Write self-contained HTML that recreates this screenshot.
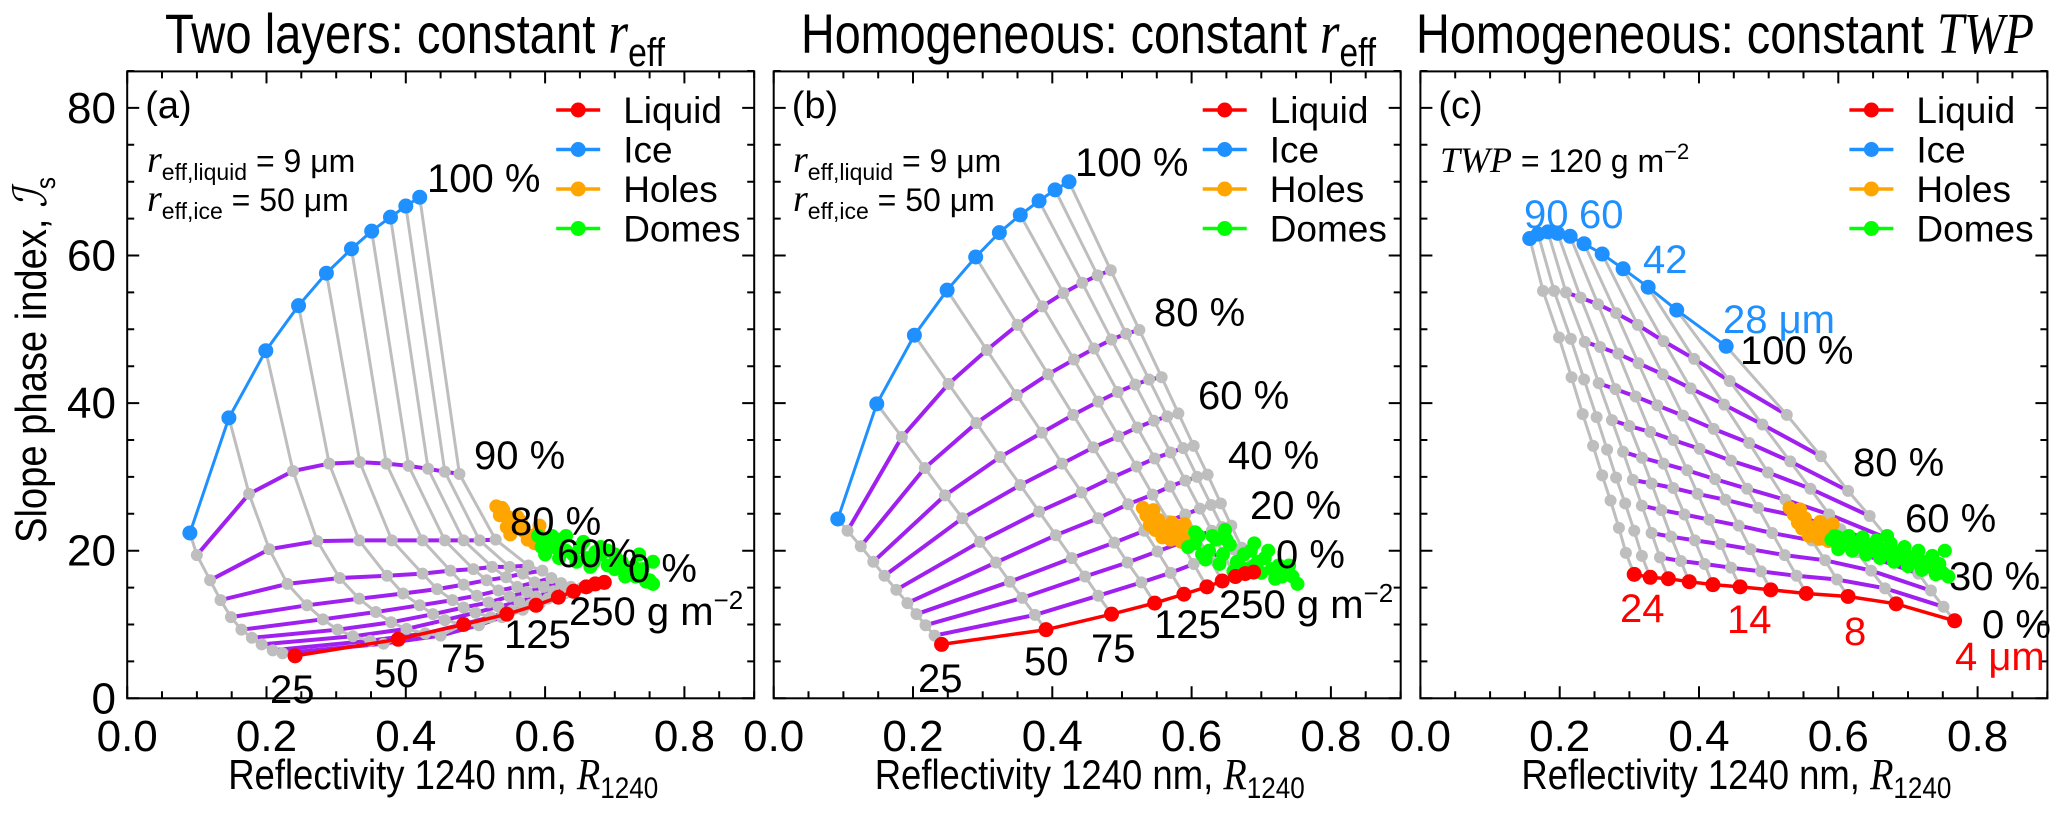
<!DOCTYPE html>
<html><head><meta charset="utf-8">
<style>
html,body{margin:0;padding:0;background:#fff;}
svg{display:block;font-family:"Liberation Sans",sans-serif;}
</style></head>
<body>
<svg id="fig" width="2067" height="814" viewBox="0 0 2067 814" xmlns="http://www.w3.org/2000/svg">
<rect x="0" y="0" width="2067" height="814" fill="#fff"/>
<g id="titles" font-size="56">
<text x="165" y="53" textLength="500" lengthAdjust="spacingAndGlyphs">Two layers: constant <tspan font-family="Liberation Serif" font-style="italic" font-size="60">r</tspan><tspan font-size="40" dy="13">eff</tspan></text>
<text x="801" y="53" textLength="575" lengthAdjust="spacingAndGlyphs">Homogeneous: constant <tspan font-family="Liberation Serif" font-style="italic" font-size="60">r</tspan><tspan font-size="40" dy="13">eff</tspan></text>
<text x="1416" y="53" textLength="618" lengthAdjust="spacingAndGlyphs">Homogeneous: constant <tspan font-family="Liberation Serif" font-style="italic" font-size="58">TWP</tspan></text>
</g>
<text transform="translate(46,360) rotate(-90)" text-anchor="middle" font-size="44" textLength="366" lengthAdjust="spacingAndGlyphs">Slope phase index, <tspan font-family="Liberation Serif" font-style="italic" font-size="46">ℐ</tspan><tspan font-size="28" dy="9">s</tspan></text>
<g id="plots"></g>
</svg>
<script>
// ---------- panel geometry ----------
const panelX0 = [127.2, 773.7, 1420.4];
const PX = 696.5, PY = 7.38, Y0 = 698.3, PW = 627, TOP = 71.4;
const xTicks = [0.0, 0.2, 0.4, 0.6, 0.8];
const xTickLabels = ["0.0", "0.2", "0.4", "0.6", "0.8"];
const yTicks = [0, 20, 40, 60, 80];
const yTickLabels = ["0", "20", "40", "60", "80"];
const legendNames = ["Liquid", "Ice", "Holes", "Domes"];
const legendColors = ["#ff0000", "#1e90ff", "#ffa500", "#00ff00"];

// ---------- panel (a) grid: rows 100% (ice) .. 0% (liquid) ----------
const aX = [
[0.090,0.146,0.199,0.246,0.286,0.322,0.351,0.378,0.400,0.420],
[0.100,0.175,0.238,0.290,0.334,0.372,0.404,0.432,0.456,0.477],
[0.119,0.204,0.273,0.333,0.380,0.424,0.456,0.483,0.506,0.529],
[0.134,0.230,0.305,0.373,0.424,0.464,0.497,0.524,0.549,0.576],
[0.149,0.258,0.333,0.396,0.445,0.483,0.516,0.544,0.568,0.596],
[0.164,0.281,0.357,0.420,0.467,0.502,0.533,0.560,0.585,0.609],
[0.179,0.302,0.379,0.439,0.483,0.519,0.549,0.574,0.598,0.623],
[0.193,0.324,0.401,0.456,0.500,0.533,0.563,0.587,0.612,0.637],
[0.209,0.349,0.428,0.481,0.522,0.552,0.579,0.604,0.628,0.653],
[0.223,0.368,0.450,0.505,0.538,0.568,0.593,0.615,0.637,0.664],
[0.241,0.389,0.483,0.545,0.587,0.619,0.641,0.659,0.672,0.685]];
const aY = [
[22.4,38.0,47.1,53.2,57.6,60.9,63.3,65.2,66.7,67.9],
[19.4,27.7,30.8,31.8,32.0,31.8,31.5,31.1,30.7,30.4],
[16.0,20.2,21.3,21.4,21.4,21.4,21.4,21.4,21.4,21.5],
[13.3,15.5,16.3,16.6,16.9,17.3,17.5,17.8,17.8,18.0],
[11.0,12.6,13.5,14.2,14.8,15.4,16.0,16.4,16.9,17.3],
[9.3,10.7,11.7,12.6,13.3,13.9,14.6,15.1,15.7,16.3],
[8.2,9.3,10.3,11.4,12.3,13.0,13.8,14.4,15.1,15.6],
[7.3,8.4,9.4,10.6,11.6,12.4,13.1,13.8,14.5,15.1],
[6.5,7.8,8.8,10.0,11.0,11.9,12.7,13.5,14.2,15.0],
[6.1,7.4,8.5,9.9,11.0,12.0,12.9,13.7,14.4,15.1],
[5.75,8.0,10.0,11.4,12.6,13.7,14.5,15.1,15.5,15.7]];

// ---------- panel (b) grid ----------
const bX = [
[0.092,0.148,0.202,0.249,0.290,0.324,0.354,0.381,0.404,0.424],
[0.106,0.184,0.251,0.306,0.350,0.386,0.416,0.443,0.465,0.484],
[0.125,0.217,0.291,0.349,0.394,0.431,0.460,0.485,0.506,0.525],
[0.143,0.246,0.325,0.385,0.430,0.466,0.494,0.519,0.539,0.557],
[0.159,0.271,0.354,0.414,0.459,0.495,0.522,0.546,0.565,0.581],
[0.176,0.296,0.381,0.442,0.486,0.521,0.547,0.570,0.588,0.603],
[0.192,0.319,0.405,0.466,0.509,0.544,0.569,0.591,0.608,0.623],
[0.205,0.339,0.428,0.489,0.532,0.567,0.591,0.612,0.628,0.642],
[0.218,0.357,0.447,0.508,0.551,0.585,0.608,0.629,0.644,0.657],
[0.231,0.375,0.466,0.528,0.570,0.603,0.625,0.645,0.660,0.672],
[0.241,0.391,0.485,0.547,0.589,0.622,0.644,0.663,0.677,0.689]];
const bY = [
[24.3,39.9,49.2,55.3,59.8,63.1,65.5,67.4,68.9,70.0],
[22.7,35.4,42.6,47.2,50.6,53.1,54.9,56.3,57.3,58.0],
[20.6,31.2,37.3,41.1,43.9,45.9,47.4,48.6,49.4,49.9],
[18.5,27.5,32.7,36.0,38.4,40.2,41.5,42.5,43.2,43.5],
[16.6,24.4,28.9,31.8,34.0,35.5,36.7,37.6,38.2,38.6],
[14.7,21.2,25.3,27.9,29.9,31.4,32.5,33.3,33.9,34.2],
[12.9,18.4,22.1,24.4,26.3,27.6,28.7,29.5,30.0,30.3],
[11.4,15.8,19.0,21.1,22.7,24.0,24.9,25.7,26.2,26.4],
[9.9,13.6,16.5,18.4,19.9,21.1,22.0,22.7,23.2,23.4],
[8.5,11.3,13.9,15.7,17.0,18.2,19.1,19.7,20.2,20.4],
[7.3,9.3,11.4,12.9,14.1,15.1,15.9,16.5,16.9,17.1]];

// ---------- panel (c) grid ----------
const cX = [
[0.157,0.169,0.183,0.197,0.215,0.235,0.261,0.291,0.327,0.368,0.439],
[0.176,0.192,0.209,0.230,0.255,0.281,0.312,0.349,0.393,0.444,0.526],
[0.199,0.216,0.236,0.258,0.284,0.313,0.348,0.388,0.436,0.491,0.575],
[0.217,0.235,0.256,0.280,0.309,0.340,0.377,0.421,0.472,0.531,0.614],
[0.233,0.253,0.275,0.300,0.330,0.363,0.401,0.446,0.499,0.560,0.645],
[0.248,0.268,0.291,0.318,0.349,0.383,0.423,0.469,0.524,0.587,0.672],
[0.261,0.281,0.305,0.332,0.363,0.398,0.438,0.485,0.540,0.603,0.690],
[0.273,0.294,0.318,0.346,0.379,0.415,0.457,0.505,0.562,0.627,0.715],
[0.285,0.307,0.332,0.360,0.394,0.431,0.474,0.523,0.581,0.647,0.733],
[0.295,0.318,0.344,0.374,0.408,0.446,0.489,0.540,0.598,0.667,0.751],
[0.307,0.330,0.356,0.386,0.420,0.459,0.503,0.554,0.614,0.683,0.767]];
const cY = [
[62.3,62.9,63.2,63.0,62.6,61.6,60.2,58.2,55.7,52.6,47.7],
[55.2,55.2,55.0,54.3,53.4,52.2,50.6,48.4,46.0,43.0,38.4],
[48.9,48.7,48.3,47.6,46.7,45.4,43.9,42.0,39.8,37.1,32.8],
[43.5,43.2,42.7,41.9,40.9,39.7,38.3,36.5,34.6,32.1,28.1],
[38.5,38.1,37.7,36.9,36.1,35.0,33.8,32.2,30.6,28.4,24.7],
[34.2,33.7,33.4,32.6,31.8,30.9,29.7,28.4,26.9,24.9,21.6],
[30.2,29.9,29.6,29.1,28.5,27.7,26.9,25.8,24.7,22.9,19.8],
[26.8,26.4,26.1,25.5,24.9,24.2,23.4,22.4,21.4,19.8,16.9],
[23.1,22.7,22.4,21.9,21.4,20.9,20.2,19.4,18.7,17.3,14.6],
[19.7,19.3,19.1,18.6,18.2,17.7,17.2,16.6,16.1,14.9,12.4],
[16.8,16.4,16.2,15.8,15.4,15.1,14.7,14.2,13.8,12.8,10.5]];

// ---------- observations ----------
const aHolesX = [0.530,0.540,0.535,0.548,0.555,0.545,0.560,0.570,0.580,0.590,0.575,0.585,0.595,0.565,0.550,0.538,0.560,0.592];
const aHolesY = [26.0,25.5,24.8,24.5,23.8,23.2,23.0,22.6,22.0,22.5,21.5,21.0,21.8,24.0,22.2,25.8,24.6,23.4];
const aDomesX = [0.590,0.600,0.610,0.620,0.630,0.640,0.650,0.660,0.670,0.680,0.690,0.700,0.710,0.720,0.730,0.740,0.750,0.755,0.600,0.620,0.645,0.665,0.680,0.700,0.735,0.755,0.610,0.630,0.655,0.690,0.715,0.745,0.595,0.625,0.672,0.705,0.727];
const aDomesY = [22.0,21.0,20.5,21.5,20.0,19.5,20.5,19.0,18.5,19.5,18.0,17.5,18.5,17.0,16.5,17.5,16.0,15.5,19.5,19.0,18.5,17.8,20.5,19.5,19.5,18.5,22.0,22.0,21.2,20.0,16.5,15.8,20.5,20.2,19.8,18.0,17.8];
const bHolesX = [0.530,0.535,0.545,0.540,0.552,0.560,0.565,0.572,0.580,0.588,0.595,0.585,0.570,0.558,0.548,0.590];
const bHolesY = [25.8,24.8,25.5,23.5,24.2,23.0,22.4,23.8,22.8,22.0,21.6,21.2,21.5,21.8,22.8,23.6];
const bDomesX = [0.595,0.605,0.615,0.625,0.635,0.645,0.655,0.665,0.675,0.685,0.695,0.705,0.715,0.725,0.735,0.745,0.752,0.610,0.630,0.650,0.670,0.690,0.710,0.730,0.620,0.640,0.660,0.680,0.700,0.720,0.740,0.605,0.648,0.690];
const bDomesY = [20.5,21.0,19.5,20.0,21.5,19.5,20.8,18.5,19.5,20.0,18.5,19.0,17.5,18.0,17.0,16.5,15.5,22.0,22.0,21.5,17.8,21.0,20.0,16.5,18.8,18.2,17.2,17.5,17.0,16.2,18.0,22.5,22.8,18.0];
const cHolesX = [0.530,0.536,0.545,0.542,0.552,0.560,0.566,0.574,0.582,0.590,0.597,0.586,0.572,0.558,0.548,0.592];
const cHolesY = [25.8,24.9,25.6,23.8,24.4,23.2,22.6,23.9,22.9,22.2,21.6,21.3,21.6,22.0,23.0,23.6];
const cDomesX = [0.590,0.600,0.610,0.620,0.630,0.640,0.650,0.660,0.670,0.680,0.690,0.700,0.710,0.720,0.730,0.740,0.750,0.758,0.600,0.620,0.640,0.660,0.680,0.700,0.720,0.740,0.595,0.615,0.635,0.655,0.675,0.695,0.715,0.735,0.753,0.670,0.745];
const cDomesY = [21.5,21.8,21.0,21.2,20.6,20.8,20.0,20.2,19.6,19.8,19.0,19.2,18.5,18.6,17.8,17.6,17.0,16.5,20.2,20.0,19.5,19.0,18.5,17.9,17.4,16.8,22.0,22.0,21.8,21.4,21.0,20.5,20.0,19.3,20.0,22.0,18.2];

const panels = [
 {id:"a", gx:aX, gy:aY, hx:aHolesX, hy:aHolesY, dx:aDomesX, dy:aDomesY, purpleStart:0},
 {id:"b", gx:bX, gy:bY, hx:bHolesX, hy:bHolesY, dx:bDomesX, dy:bDomesY, purpleStart:0},
 {id:"c", gx:cX, gy:cY, hx:cHolesX, hy:cHolesY, dx:cDomesX, dy:cDomesY, purpleStart:2}
];

const NS = "http://www.w3.org/2000/svg";
const root = document.getElementById("plots");
function mk(tag, attrs, parent){
  const e = document.createElementNS(NS, tag);
  for (const k in attrs) e.setAttribute(k, attrs[k]);
  parent.appendChild(e);
  return e;
}
function pathOf(xs, ys, sx, sy, start){
  let d = "";
  for (let i = start; i < xs.length; i++) d += (i === start ? "M" : "L") + sx(xs[i]).toFixed(1) + "," + sy(ys[i]).toFixed(1);
  return d;
}

panels.forEach((p, pi) => {
  const ox = panelX0[pi];
  const sx = v => ox + v * PX;
  const sy = v => Y0 - v * PY;
  const g = mk("g", {}, root);
  
  
  const nR = p.gx.length, nC = p.gx[0].length;
  for (let r = 1; r < nR - 1; r++) {
    const pl = mk("path", {d: pathOf(p.gx[r], p.gy[r], sx, sy, p.purpleStart), fill:"none", stroke:"#a020f0", "stroke-width":"4"}, g);
    
    
  }
  for (let c = 0; c < nC; c++) {
    const xs = p.gx.map(row => row[c]), ys = p.gy.map(row => row[c]);
    const cl = mk("path", {d: pathOf(xs, ys, sx, sy, 0), fill:"none", stroke:"#bebebe", "stroke-width":"3"}, g);
    
    
  }
  for (let r = 1; r < nR - 1; r++) for (let c = 0; c < nC; c++) {
    const d = mk("circle", {cx: sx(p.gx[r][c]), cy: sy(p.gy[r][c]), r: 6, fill:"#bebebe"}, g);
    
    
  }
  const ice = mk("path", {d: pathOf(p.gx[0], p.gy[0], sx, sy, 0), fill:"none", stroke:"#1e90ff", "stroke-width":"3"}, g);
  
  
  const liq = mk("path", {d: pathOf(p.gx[nR-1], p.gy[nR-1], sx, sy, 0), fill:"none", stroke:"#ff0000", "stroke-width":"3.5"}, g);
  
  
  for (let i = 0; i < p.hx.length; i++) {
    const d = mk("circle", {cx: sx(p.hx[i]), cy: sy(p.hy[i]), r: 7, fill:"#ffa500"}, g);
    
    
  }
  for (let i = 0; i < p.dx.length; i++) {
    const d = mk("circle", {cx: sx(p.dx[i]), cy: sy(p.dy[i]), r: 7, fill:"#00ff00"}, g);
    
    
  }
  for (let c = 0; c < nC; c++) {
    const d = mk("circle", {cx: sx(p.gx[0][c]), cy: sy(p.gy[0][c]), r: 7.5, fill:"#1e90ff"}, g);
    
    
    const e = mk("circle", {cx: sx(p.gx[nR-1][c]), cy: sy(p.gy[nR-1][c]), r: 7.5, fill:"#ff0000"}, g);
    
    
  }
  const fr = mk("rect", {x: ox, y: TOP, width: PW, height: Y0 - TOP, fill:"none", stroke:"#000", "stroke-width":"2"}, g);
  
  
  let td = "";
  for (let k = 0; k <= 18; k++) {
    const X = sx(k * 0.05), L = (k % 4 === 0) ? 12 : 7;
    td += `M${X.toFixed(1)},${Y0}v${-L}M${X.toFixed(1)},${TOP}v${L}`;
  }
  for (let k = 0; k <= 17; k++) {
    const Y = sy(k * 5), L = (k % 4 === 0) ? 12 : 7;
    td += `M${ox},${Y.toFixed(1)}h${L}M${ox + PW},${Y.toFixed(1)}h${-L}`;
  }
  const tk = mk("path", {d: td, stroke:"#000", "stroke-width":"2", fill:"none"}, g);
  
  
  xTicks.forEach((v, i) => {
    const t = mk("text", {x: sx(v), y: 751, "text-anchor":"middle", "font-size":"44"}, g);
    t.textContent = xTickLabels[i];
    
    
  });
  if (pi === 0) yTicks.forEach((v, i) => {
    const t = mk("text", {x: 116, y: sy(v) + 15, "text-anchor":"end", "font-size":"44"}, g);
    t.textContent = yTickLabels[i];
    
    
  });
  const xt = mk("text", {x: ox + 101, y: 789, "font-size":"42", textLength:"430", lengthAdjust:"spacingAndGlyphs"}, g);
  xt.innerHTML = 'Reflectivity 1240 nm, <tspan font-family="Liberation Serif" font-style="italic" font-size="44">R</tspan><tspan font-size="30" dy="9">1240</tspan>';
  
  
  const pl = mk("text", {x: ox + 18, y: 118, "font-size":"38"}, g);
  pl.textContent = "(" + p.id + ")";
  
  
  legendNames.forEach((n, i) => {
    const yy = 110 + i * 39.5;
    const le = mk("g", {}, g);
    
    
    mk("line", {x1: ox + 429, x2: ox + 473, y1: yy, y2: yy, stroke: legendColors[i], "stroke-width":"3.5"}, le);
    mk("circle", {cx: ox + 451, cy: yy, r: 7.5, fill: legendColors[i]}, le);
    const t = mk("text", {x: ox + 496, y: yy + 13, "font-size":"37"}, le);
    t.textContent = n;
  });
});

const ann = [
 [147,172,'<tspan font-family="Liberation Serif" font-style="italic" font-size="38">r</tspan><tspan font-size="23" dy="8">eff,liquid</tspan><tspan dy="-8"> = 9 μm</tspan>',"#000",32,"param-text"],
 [147,211,'<tspan font-family="Liberation Serif" font-style="italic" font-size="38">r</tspan><tspan font-size="23" dy="8">eff,ice</tspan><tspan dy="-8"> = 50 μm</tspan>',"#000",32,"param-text"],
 [427,192,"100 %","#000",40,"percent-label"],
 [474,469,"90 %","#000",40,"percent-label"],
 [510,535,"80 %","#000",40,"percent-label"],
 [557,567,"60%","#000",40,"percent-label"],
 [628,582,"0 %","#000",40,"percent-label"],
 [569,625,'250 g m<tspan font-size="26" dy="-16">−2</tspan>',"#000",40,"twp-label"],
 [504,648,"125","#000",40,"twp-label"],
 [441,672,"75","#000",40,"twp-label"],
 [374,687,"50","#000",40,"twp-label"],
 [270,703,"25","#000",40,"twp-label"],
 [793,172,'<tspan font-family="Liberation Serif" font-style="italic" font-size="38">r</tspan><tspan font-size="23" dy="8">eff,liquid</tspan><tspan dy="-8"> = 9 μm</tspan>',"#000",32,"param-text"],
 [793,211,'<tspan font-family="Liberation Serif" font-style="italic" font-size="38">r</tspan><tspan font-size="23" dy="8">eff,ice</tspan><tspan dy="-8"> = 50 μm</tspan>',"#000",32,"param-text"],
 [1075,176,"100 %","#000",40,"percent-label"],
 [1154,326,"80 %","#000",40,"percent-label"],
 [1198,409,"60 %","#000",40,"percent-label"],
 [1228,469,"40 %","#000",40,"percent-label"],
 [1250,519,"20 %","#000",40,"percent-label"],
 [1276,568,"0 %","#000",40,"percent-label"],
 [1219,618,'250 g m<tspan font-size="26" dy="-16">−2</tspan>',"#000",40,"twp-label"],
 [1154,638,"125","#000",40,"twp-label"],
 [1091,662,"75","#000",40,"twp-label"],
 [1024,675,"50","#000",40,"twp-label"],
 [918,692,"25","#000",40,"twp-label"],
 [1440,172,'<tspan font-family="Liberation Serif" font-style="italic" font-size="36">TWP</tspan> = 120 g m<tspan font-size="22" dy="-13">−2</tspan>',"#000",32,"param-text"],
 [1524,228,"90","#1e90ff",40,"radius-label"],
 [1579,228,"60","#1e90ff",40,"radius-label"],
 [1643,273,"42","#1e90ff",40,"radius-label"],
 [1723,333,"28 μm","#1e90ff",40,"radius-label"],
 [1740,364,"100 %","#000",40,"percent-label"],
 [1853,476,"80 %","#000",40,"percent-label"],
 [1905,532,"60 %","#000",40,"percent-label"],
 [1949,590,"30 %","#000",40,"percent-label"],
 [1982,638,"0 %","#000",40,"percent-label"],
 [1620,622,"24","#ff0000",40,"radius-label"],
 [1727,633,"14","#ff0000",40,"radius-label"],
 [1844,645,"8","#ff0000",40,"radius-label"],
 [1955,670,"4 μm","#ff0000",40,"radius-label"]
];
ann.forEach(a => {
  const t = mk("text", {x: a[0], y: a[1], fill: a[3], "font-size": a[4]}, root);
  t.innerHTML = a[2];
  
  
});
</script>
</body></html>
